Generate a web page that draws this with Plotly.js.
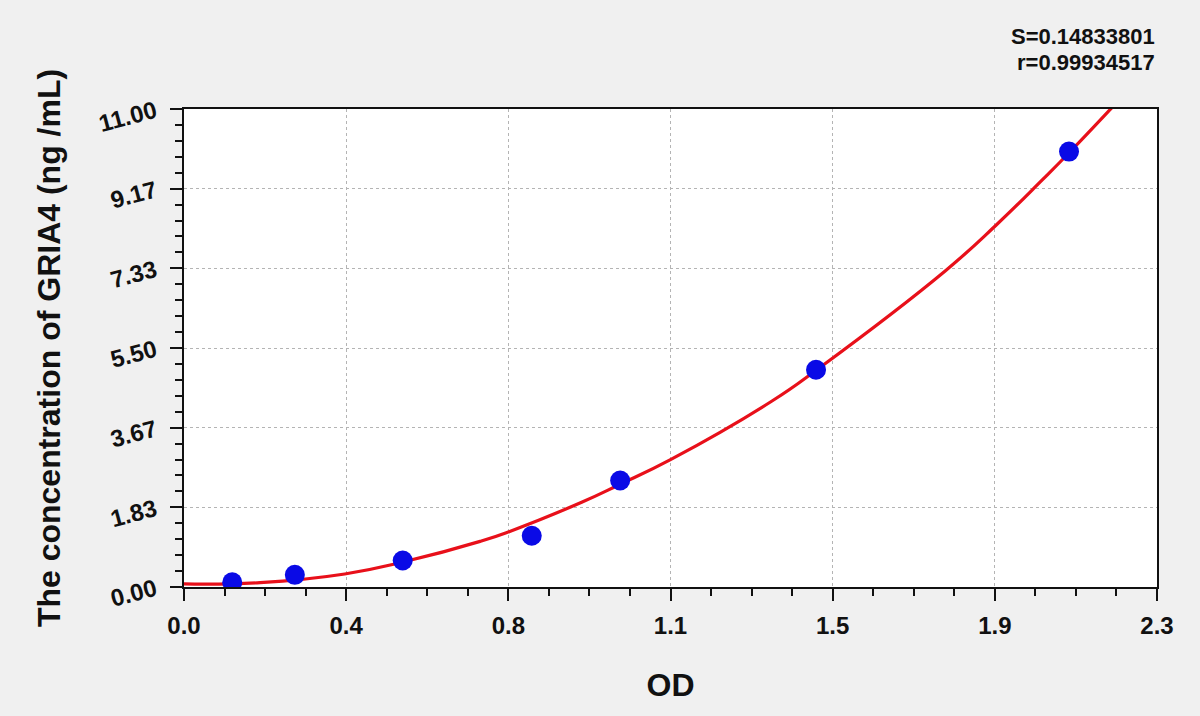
<!DOCTYPE html>
<html>
<head>
<meta charset="utf-8">
<script src="https://cdn.plot.ly/plotly-3.0.1.min.js"></script>
<style>
  html, body { margin: 0; padding: 0; background: #f0f0f0; }
  #chart { width: 1200px; height: 716px; }
</style>
</head>
<body>
<div id="chart"></div>
<script>
// standard points (OD vs concentration)
const odPoints = [0.114, 0.262, 0.517, 0.822, 1.031, 1.494, 2.092];
const concPoints = [0.11, 0.28, 0.61, 1.18, 2.45, 5.0, 10.02];

// fitted curve
const curveOd = [0, 0.18, 0.38, 0.52, 0.70, 0.77, 0.94, 1.03, 1.15, 1.39, 1.50, 1.80, 1.92, 2.03, 2.09, 2.2];
const curveConc = [0.07, 0.10, 0.30, 0.58, 1.05, 1.28, 1.95, 2.36, 2.93, 4.28, 5.03, 7.28, 8.33, 9.38, 9.97, 11.1];

const xTickText = ["0.0", "0.4", "0.8", "1.1", "1.5", "1.9", "2.3"];
const yTickText = ["0.00", "1.83", "3.67", "5.50", "7.33", "9.17", "11.00"];
const statLines = ["S=0.14833801", "r=0.99934517"];

const X_MAX = 2.3;
const Y_MAX = 11;
const xTickVals = xTickText.map((_, i) => (i * X_MAX) / 6);
const yTickVals = yTickText.map((_, i) => (i * Y_MAX) / 6);

const FONT = "Liberation Sans, Arial, sans-serif";
const tickFont = { family: FONT, size: 24, color: "#111", weight: "bold" };
const titleFont = { family: FONT, size: 32, color: "#111", weight: "bold" };

const axisCommon = {
  ticks: "outside",
  ticklen: 12,
  tickwidth: 2,
  tickcolor: "#111",
  tickfont: tickFont,
  showline: true,
  linecolor: "#111",
  linewidth: 2,
  mirror: true,
  showgrid: true,
  gridcolor: "#b4b4b4",
  griddash: "dot",
  gridwidth: 1,
  zeroline: false,
};

Plotly.newPlot(
  "chart",
  [
    {
      x: curveOd,
      y: curveConc,
      type: "scatter",
      mode: "lines",
      line: { color: "#e8101a", width: 3.2, shape: "spline", smoothing: 1.3 },
      hoverinfo: "skip",
    },
    {
      x: odPoints,
      y: concPoints,
      type: "scatter",
      mode: "markers",
      marker: { color: "#0a0ae6", size: 20 },
    },
  ],
  {
    width: 1200,
    height: 716,
    showlegend: false,
    paper_bgcolor: "#f0f0f0",
    plot_bgcolor: "#ffffff",
    margin: { l: 184, r: 43, t: 109, b: 129 },
    xaxis: {
      ...axisCommon,
      range: [0, X_MAX],
      tickvals: xTickVals,
      ticktext: xTickText,
      ticklabelstandoff: 4,
      minor: { ticks: "outside", dtick: X_MAX / 24, tick0: 0, ticklen: 7, tickwidth: 2, tickcolor: "#111", showgrid: false },
      title: { text: "OD", font: titleFont, standoff: 36 },
    },
    yaxis: {
      ...axisCommon,
      range: [0, Y_MAX],
      tickvals: yTickVals,
      ticktext: yTickText,
      tickangle: -15,
      ticklabelstandoff: 10,
      minor: { ticks: "outside", dtick: Y_MAX / 30, tick0: 0, ticklen: 7, tickwidth: 2, tickcolor: "#111", showgrid: false },
      title: { text: "The concentration of GRIA4 (ng /mL)", font: titleFont, standoff: 26 },
    },
    annotations: statLines.map((txt, i) => ({
      xref: "paper",
      yref: "paper",
      x: 1,
      y: 1,
      yshift: i === 0 ? 73 : 47,
      xanchor: "right",
      yanchor: "middle",
      showarrow: false,
      text: "<b>" + txt + "</b>",
      font: { family: FONT, size: 22, color: "#111" },
    })),
  },
  { displayModeBar: false }
);
</script>
</body>
</html>
